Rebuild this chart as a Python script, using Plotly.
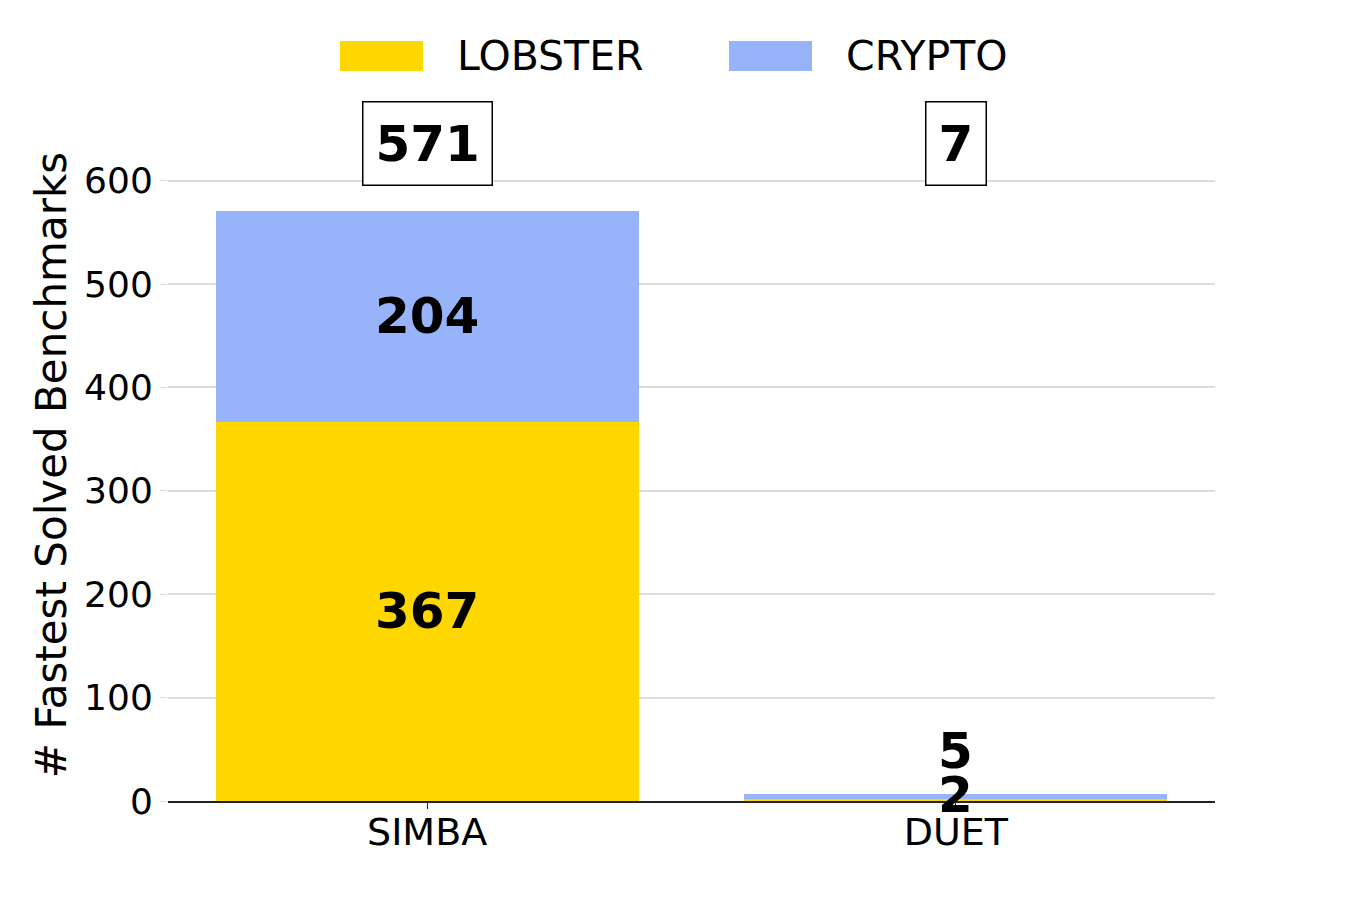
import plotly.graph_objects as go

# Data
tools = ["SIMBA", "DUET"]
series = ["LOBSTER", "CRYPTO"]
lobster = [367, 2]
crypto = [204, 5]
totals = [a + b for a, b in zip(lobster, crypto)]

gold = "#FFD700"
blue = "#97B4FA"
font = "DejaVu Sans"

# figure geometry (page body adds 8px offset)
W, H = 1350, 900
ML, MR, MT, MB = 160, 143, 121, 107
pw, ph = W - ML - MR, H - MT - MB


def px(x):
    return (x - ML) / pw


def py(y):
    return (H - MB - y) / ph


fig = go.Figure()
fig.add_trace(go.Bar(x=tools, y=lobster, name="LOBSTER", marker=dict(color=gold, line=dict(width=0)),
                     width=0.8, showlegend=False))
fig.add_trace(go.Bar(x=tools, y=crypto, name="CRYPTO", marker=dict(color=blue, line=dict(width=0)),
                     width=0.8, showlegend=False))

# segment labels
for i, t in enumerate(tools):
    shift_l = 5 if lobster[i] < 20 else 0
    shift_c = 45 if crypto[i] < 20 else 0
    fig.add_annotation(x=t, y=lobster[i] / 2, text="<b>%d</b>" % lobster[i], showarrow=False,
                       yshift=shift_l, font=dict(size=50, color="black", family=font))
    fig.add_annotation(x=t, y=lobster[i] + crypto[i] / 2, text="<b>%d</b>" % crypto[i], showarrow=False,
                       yshift=shift_c, font=dict(size=50, color="black", family=font))
    # boxed totals
    fig.add_annotation(x=t, y=636, text="<b>%d</b>" % totals[i], showarrow=False,
                       font=dict(size=50, color="black", family=font),
                       bordercolor="black", borderwidth=1.5, borderpad=12, bgcolor="white")

# legend (wide swatches like the original)
for k, (name, col) in enumerate(zip(series, [gold, blue])):
    x0 = 332 + k * 389
    fig.add_shape(type="rect", xref="paper", yref="paper",
                  x0=px(x0), x1=px(x0 + 83), y0=py(63), y1=py(33),
                  fillcolor=col, line=dict(width=0))
    fig.add_annotation(xref="paper", yref="paper", x=px(x0 + 115), y=py(48),
                       xanchor="left", yanchor="middle", text=name, showarrow=False,
                       font=dict(size=41, color="black", family=font))

fig.update_layout(
    barmode="stack",
    width=W, height=H,
    plot_bgcolor="white", paper_bgcolor="white",
    margin=dict(l=ML, r=MR, t=MT, b=MB),
    font=dict(family=font, color="black"),
    showlegend=False,
)
fig.update_xaxes(range=[-0.49, 1.49], showline=True, linecolor="#222222", linewidth=1.5,
                 ticks="outside", ticklen=6, tickcolor="#222222", tickfont=dict(size=38),
                 ticklabelstandoff=-9, showgrid=False, fixedrange=True)
fig.update_yaxes(range=[0, 650], tickvals=[0, 100, 200, 300, 400, 500, 600],
                 showgrid=True, gridcolor="#dddddd", gridwidth=1.5,
                 ticks="outside", ticklen=7, tickcolor="#dddddd", tickfont=dict(size=36),
                 zeroline=False, showline=False,
                 title=dict(text="# Fastest Solved Benchmarks", font=dict(size=42), standoff=4))

fig.write_html("out.html")
